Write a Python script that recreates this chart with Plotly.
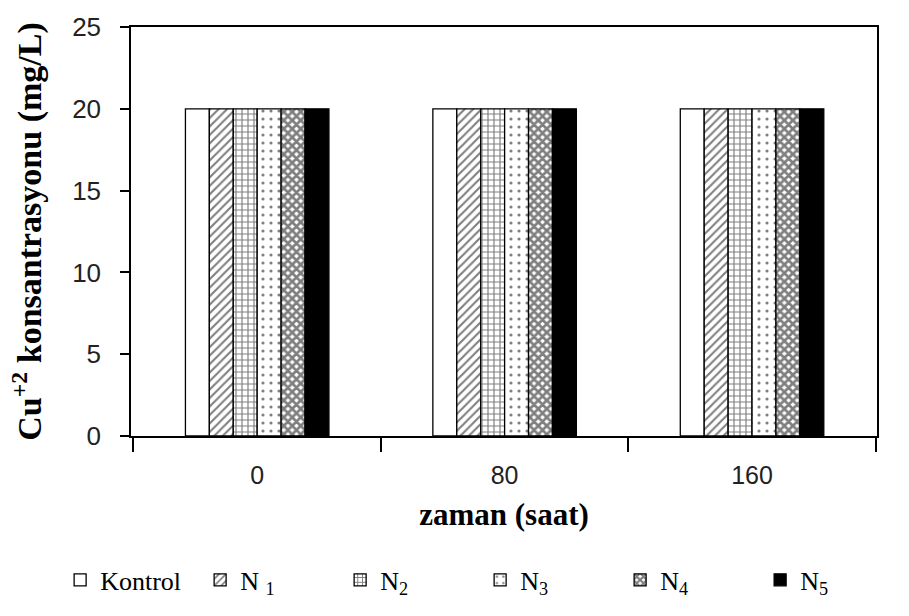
import plotly.graph_objects as go

categories = ["0", "80", "160"]
series_names = ["Kontrol", "N <sub>1</sub>", "N<sub>2</sub>", "N<sub>3</sub>", "N<sub>4</sub>", "N<sub>5</sub>"]
kontrol = [20, 20, 20]
n1 = [20, 20, 20]
n2 = [20, 20, 20]
n3 = [20, 20, 20]
n4 = [20, 20, 20]
n5 = [20, 20, 20]
series_values = [kontrol, n1, n2, n3, n4, n5]

patterns = [
    dict(shape="", bgcolor="white"),
    dict(shape="/", fgcolor="black", bgcolor="white", size=6, solidity=0.35),
    dict(shape="+", fgcolor="black", bgcolor="white", size=6, solidity=0.35),
    dict(shape=".", fgcolor="black", bgcolor="white", size=8, solidity=0.12),
    dict(shape="x", fgcolor="black", bgcolor="white", size=6, solidity=0.7),
    dict(shape="", bgcolor="black"),
]
fills = ["white", "white", "white", "white", "white", "black"]

fig = go.Figure()
for name, vals, pat, fc in zip(series_names, series_values, patterns, fills):
    fig.add_trace(go.Bar(
        x=categories, y=vals, name=name,
        marker=dict(color=fc, pattern=pat, line=dict(color="black", width=1.3)),
    ))

serif = "Liberation Serif, Times New Roman, serif"
sans = "Liberation Sans, Arial, sans-serif"

fig.update_layout(
    width=909, height=616,
    margin=dict(l=131, r=32, t=19, b=180),
    paper_bgcolor="white", plot_bgcolor="white",
    barmode="group", bargap=0.42, bargroupgap=0,
    font=dict(family=serif, color="black"),
    xaxis=dict(
        type="category", range=[-0.51, 2.505],
        showline=True, linecolor="black", linewidth=1.5, mirror=True,
        ticks="outside", ticklen=14, tickcolor="black", tickwidth=1.5,
        tickson="boundaries", showgrid=False,
        tickfont=dict(family=sans, size=25, color="#222"),
        ticklabelstandoff=16,
        title=dict(text="<b>zaman (saat)</b>", font=dict(family=serif, size=31), standoff=16),
    ),
    yaxis=dict(
        range=[0, 25], tickvals=[0, 5, 10, 15, 20, 25],
        showline=True, linecolor="black", linewidth=1.5, mirror=True,
        ticks="outside", ticklen=9, tickcolor="black", tickwidth=1.5,
        showgrid=False, zeroline=False,
        tickfont=dict(family=sans, size=26, color="#222"),
        ticklabelstandoff=14,
        title=dict(text="<b>Cu<sup>+2</sup> konsantrasyonu (mg/L)</b>", font=dict(family=serif, size=34), standoff=20),
    ),
    yaxis2=dict(
        range=[0, 25], tickvals=[0, 5, 10, 15, 20, 25], overlaying="y", side="left", anchor="x",
        ticks="inside", ticklen=8, tickcolor="black", tickwidth=1.5,
        showticklabels=False, showgrid=False, zeroline=False, showline=False,
    ),
    legend=dict(
        orientation="h",
        x=-0.095, y=-0.352, xanchor="left", yanchor="middle",
        font=dict(family=serif, size=26, color="black"),
        entrywidth=95, entrywidthmode="pixels",
        bgcolor="rgba(0,0,0,0)",
    ),
    showlegend=True,
)

fig.write_html("out.html")
